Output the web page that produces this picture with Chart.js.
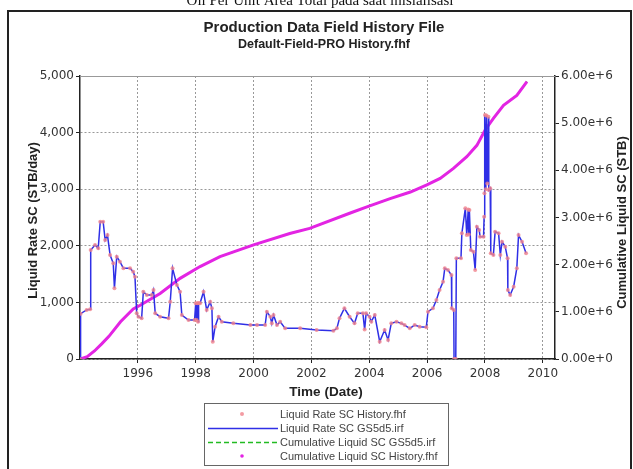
<!DOCTYPE html>
<html lang="en">
<head>
  <meta charset="UTF-8" />
  <title>Production Data Field History File</title>
  <script src="https://cdn.jsdelivr.net/npm/chart.js"></script>
  <style>
    body { margin: 0; background: #fff; }
    #wrap { width: 633px; height: 469px; }
  </style>
</head>
<body>
  <div id="wrap"><canvas id="chart" width="633" height="469"></canvas></div>

  <script>
    // liquid rate history (STB/day)
    const rateYears = [
      1994.00, 1994.02, 1994.23, 1994.35, 1994.37, 1994.52, 1994.63, 1994.70, 1994.80, 1994.87,
      1994.95, 1995.04, 1995.15, 1995.19, 1995.27, 1995.38, 1995.50, 1995.73, 1995.84, 1995.90,
      1995.96, 1996.02, 1996.13, 1996.19, 1996.31, 1996.48, 1996.54, 1996.60, 1996.77, 1997.06,
      1997.12, 1997.20, 1997.35, 1997.46, 1997.52, 1997.75, 1997.96, 1998.00, 1998.03, 1998.06,
      1998.08, 1998.10, 1998.15, 1998.27, 1998.38, 1998.50, 1998.56, 1998.59, 1998.67, 1998.79,
      1998.90, 1999.30, 1999.89, 2000.12, 2000.40, 2000.46, 2000.58, 2000.63, 2000.69, 2000.81,
      2000.92, 2001.09, 2001.61, 2002.18, 2002.76, 2002.88, 2002.97, 2003.14, 2003.32, 2003.49,
      2003.60, 2003.78, 2003.84, 2003.89, 2004.01, 2004.07, 2004.19, 2004.36, 2004.53, 2004.65,
      2004.76, 2004.94, 2005.11, 2005.22, 2005.40, 2005.57, 2005.74, 2005.97, 2006.03, 2006.20,
      2006.32, 2006.43, 2006.55, 2006.61, 2006.72, 2006.84, 2006.85, 2006.92, 2006.93, 2006.99,
      2007.01, 2007.17, 2007.20, 2007.32, 2007.37, 2007.42, 2007.44, 2007.46, 2007.51, 2007.60,
      2007.66, 2007.72, 2007.80, 2007.83, 2007.95, 2007.97, 2007.98, 2008.00, 2008.03, 2008.05,
      2008.08, 2008.12, 2008.13, 2008.18, 2008.20, 2008.29, 2008.35, 2008.47, 2008.53, 2008.59,
      2008.70, 2008.78, 2008.79, 2008.87, 2008.99, 2009.10, 2009.16, 2009.28, 2009.42
    ];
    const rateValues = [
      0, 800, 866, 878, 1925, 2014, 1955, 2426, 2426, 2102,
      2190, 1837, 1690, 1249, 1808, 1719, 1602, 1602, 1543, 1454,
      807, 747, 719, 1189, 1131, 1131, 1219, 807, 747, 719,
      1012, 1602, 1307, 1189, 777, 689, 689, 984, 689, 984,
      660, 990, 984, 1189, 866, 1012, 896, 306, 571, 747,
      659, 630, 600, 600, 600, 836, 747, 630, 777, 600,
      659, 542, 542, 512, 500, 542, 719, 896, 747, 630,
      807, 807, 520, 807, 747, 659, 777, 306, 512, 336,
      630, 659, 630, 600, 542, 600, 571, 560, 836, 896,
      1042, 1219, 1366, 1602, 1572, 1484, 896, 866, 0, 0,
      1779, 1779, 2221, 2662, 2191, 2640, 2200, 2633, 1926, 1896,
      1572, 2338, 2279, 2161, 2161, 2514, 2927, 4311, 3000, 4300,
      3100, 4281, 2986, 3016, 1867, 1837, 2249, 2220, 1837, 2072,
      1984, 1779, 1219, 1131, 1277, 1602, 2191, 2072, 1867
    ];

    // cumulative liquid (STB)
    const cumYears = [
      1994.00, 1994.25, 1994.50, 1994.75, 1995.00, 1995.40, 1995.84, 1996.08, 1996.77, 1997.46,
      1998.15, 1998.84, 2000.00, 2001.25, 2001.94, 2003.32, 2003.99, 2004.72, 2005.42, 2005.99,
      2006.45, 2006.91, 2007.37, 2007.72, 2008.00, 2008.29, 2008.64, 2009.10, 2009.45
    ];
    const cumValues = [
      0, 50000, 170000, 320000, 480000, 790000, 1060000, 1140000, 1390000, 1710000,
      1960000, 2170000, 2420000, 2660000, 2770000, 3090000, 3240000, 3400000, 3540000, 3690000,
      3830000, 4040000, 4290000, 4530000, 4850000, 5100000, 5380000, 5590000, 5880000
    ];

    const xTicks = [1996, 1998, 2000, 2002, 2004, 2006, 2008, 2010];
    const seriesLabels = [
      'Liquid Rate SC History.fhf',
      'Liquid Rate SC GS5d5.irf',
      'Cumulative Liquid SC GS5d5.irf',
      'Cumulative Liquid SC History.fhf'
    ];

    const pts = (xs, ys) => xs.map((x, i) => ({ x: x, y: ys[i] }));
    const tickFont = { family: '"DejaVu Sans", Verdana, sans-serif', size: 12 };
    const sans = 'Arial, "Liberation Sans", sans-serif';

    const decor = {
      id: 'decor',
      afterDraw(chart) {
        const ctx = chart.ctx;
        const a = chart.chartArea;
        ctx.save();
        // page caption, cut off at the top
        ctx.fillStyle = '#111';
        ctx.font = '15px "Liberation Serif", "DejaVu Serif", serif';
        ctx.textAlign = 'center';
        ctx.textBaseline = 'alphabetic';
        ctx.fillText('Oil Per Unit Area Total pada saat inisialisasi', 320, 5);

        // frame
        ctx.strokeStyle = '#222';
        ctx.lineWidth = 2;
        ctx.strokeRect(8, 11, 623, 470);

        // plot top edge
        ctx.strokeStyle = '#999';
        ctx.lineWidth = 1;
        ctx.beginPath();
        ctx.moveTo(a.left, a.top + 0.5);
        ctx.lineTo(a.right, a.top + 0.5);
        ctx.stroke();

        // titles
        ctx.fillStyle = '#222';
        ctx.font = 'bold 15px ' + sans;
        ctx.textBaseline = 'middle';
        ctx.fillText('Production Data Field History File', 324, 28);
        ctx.font = 'bold 12.5px ' + sans;
        ctx.fillText('Default-Field-PRO History.fhf', 324, 45);

        // axis titles
        ctx.font = 'bold 13.5px ' + sans;
        ctx.fillText('Time (Date)', 326, 392);
        ctx.font = 'bold 13px ' + sans;
        ctx.save();
        ctx.translate(33, (a.top + a.bottom) / 2 + 3);
        ctx.rotate(-Math.PI / 2);
        ctx.fillText('Liquid Rate SC (STB/day)', 0, 0);
        ctx.restore();
        ctx.save();
        ctx.translate(622, (a.top + a.bottom) / 2 + 5);
        ctx.rotate(-Math.PI / 2);
        ctx.fillText('Cumulative Liquid SC (STB)', 0, 0);
        ctx.restore();

        // legend
        const lx = 204, ly = 403, lw = 244, lh = 62;
        ctx.strokeStyle = '#666';
        ctx.lineWidth = 1;
        ctx.strokeRect(lx + 0.5, ly + 0.5, lw, lh);
        ctx.font = '11px ' + sans;
        ctx.textAlign = 'left';
        const ds = chart.data.datasets;
        const rowY = [414, 428, 442, 456];
        ds.forEach((d, i) => {
          const y = rowY[i];
          if (i === 0) {
            ctx.fillStyle = d.pointBackgroundColor;
            ctx.beginPath(); ctx.arc(242, y, 2, 0, Math.PI * 2); ctx.fill();
          } else if (i === 3) {
            ctx.fillStyle = d.borderColor;
            ctx.beginPath(); ctx.arc(242, y, 1.8, 0, Math.PI * 2); ctx.fill();
          } else {
            ctx.strokeStyle = d.borderColor;
            ctx.lineWidth = 1.5;
            ctx.setLineDash(d.borderDash || []);
            ctx.beginPath(); ctx.moveTo(208, y + 0.5); ctx.lineTo(278, y + 0.5); ctx.stroke();
            ctx.setLineDash([]);
          }
          ctx.fillStyle = '#444';
          ctx.fillText(d.label, 280, y + 0.5);
        });
        ctx.restore();
      }
    };

    new Chart(document.getElementById('chart'), {
      type: 'line',
      data: {
        datasets: [
          {
            label: seriesLabels[0],
            data: pts(rateYears, rateValues),
            yAxisID: 'y',
            showLine: false,
            pointRadius: 2,
            pointBorderWidth: 0,
            pointBackgroundColor: 'rgba(240,130,140,0.8)',
            borderColor: 'rgba(240,130,140,0.8)',
            order: 0
          },
          {
            label: seriesLabels[1],
            data: pts(rateYears, rateValues),
            yAxisID: 'y',
            borderColor: '#2f2fe6',
            borderWidth: 1.5,
            pointRadius: 0,
            order: 1
          },
          {
            label: seriesLabels[2],
            data: pts(cumYears, cumValues),
            yAxisID: 'y2',
            borderColor: '#22bb22',
            borderDash: [5, 3],
            borderWidth: 1.5,
            pointRadius: 0,
            order: 3
          },
          {
            label: seriesLabels[3],
            data: pts(cumYears, cumValues),
            yAxisID: 'y2',
            borderColor: '#e324e3',
            borderWidth: 3,
            pointRadius: 0,
            order: 2
          }
        ]
      },
      options: {
        responsive: false,
        animation: false,
        layout: { padding: { top: 76, left: 0, right: 0, bottom: 0 } },
        plugins: { legend: { display: false }, tooltip: { enabled: false } },
        elements: { line: { tension: 0 } },
        scales: {
          x: {
            type: 'linear',
            min: 1994,
            max: 2010.42,
            afterBuildTicks: s => { s.ticks = xTicks.map(v => ({ value: v })); },
            afterFit: s => { s.height = 110; },
            ticks: { font: tickFont, color: '#333', padding: 4, maxRotation: 0, callback: v => String(v) },
            grid: { color: '#999', tickColor: '#222', tickLength: 4 },
            border: { color: '#222', width: 1.5, dash: [2, 2] }
          },
          y: {
            position: 'left',
            min: 0,
            max: 5000,
            afterFit: s => { s.width = 80; },
            ticks: { stepSize: 1000, font: tickFont, color: '#333', padding: 2,
                     callback: v => v.toLocaleString('en-US') },
            grid: { color: '#999', tickColor: '#222', tickLength: 4 },
            border: { color: '#222', width: 1.5, dash: [2, 2] }
          },
          y2: {
            position: 'right',
            min: 0,
            max: 6000000,
            afterFit: s => { s.width = 78; },
            ticks: { stepSize: 1000000, font: tickFont, color: '#333', padding: 2,
                     callback: v => v.toExponential(2) },
            grid: { drawOnChartArea: false, tickColor: '#222', tickLength: 4 },
            border: { color: '#222', width: 1.5 }
          }
        }
      },
      plugins: [decor]
    });
  </script>
</body>
</html>
